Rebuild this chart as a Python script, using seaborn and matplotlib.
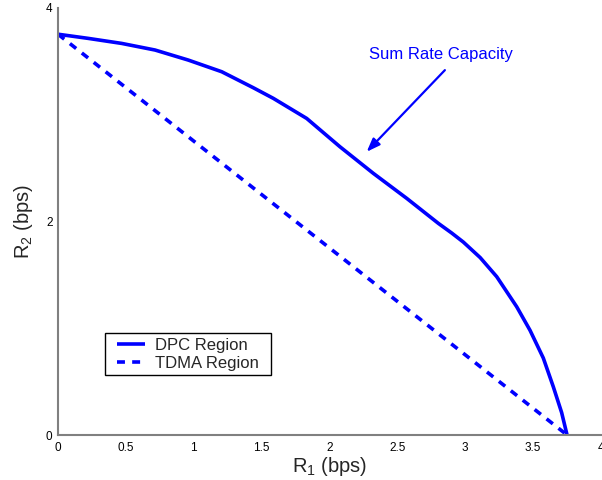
import numpy as np
import pandas as pd
import matplotlib
matplotlib.use("Agg")
import matplotlib.pyplot as plt
from matplotlib.patches import Rectangle
import seaborn as sns

# ---- data ----
dpc_x = [0.0, 0.223, 0.469, 0.715, 0.960, 1.206, 1.439, 1.586, 1.832, 2.077,
         2.323, 2.569, 2.802, 2.900, 2.986, 3.110, 3.232, 3.379, 3.477, 3.575,
         3.649, 3.710, 3.75]
dpc_y = [3.75, 3.711, 3.664, 3.602, 3.508, 3.399, 3.249, 3.150, 2.962, 2.697,
         2.448, 2.214, 1.980, 1.890, 1.805, 1.660, 1.481, 1.200, 0.980, 0.720,
         0.450, 0.210, 0.0]
tdma_x = [0.0, 3.75]
tdma_y = [3.75, 0.0]
x_ticks = [0, 0.5, 1, 1.5, 2, 2.5, 3, 3.5, 4]
x_tick_labels = ["0", "0.5", "1", "1.5", "2", "2.5", "3", "3.5", "4"]
y_ticks = [0, 2, 4]
y_tick_labels = ["0", "2", "4"]
series_names = ["DPC Region", "TDMA Region"]
annotation_text = "Sum Rate Capacity"
annotation_xy = (2.274, 2.65)
annotation_text_xy = (2.85, 3.414)

sns.set_style("white")
plt.rcParams["font.family"] = ["Liberation Sans", "DejaVu Sans"]
plt.rcParams["mathtext.fontset"] = "custom"
plt.rcParams["mathtext.rm"] = "Liberation Sans"
plt.rcParams["mathtext.it"] = "Liberation Sans"

df_dpc = pd.DataFrame({"x": dpc_x, "y": dpc_y})
df_tdma = pd.DataFrame({"x": tdma_x, "y": tdma_y})

fig = plt.figure(figsize=(6.02, 4.8), dpi=100)
ax = fig.add_axes([58 / 602, 45 / 480, 543 / 602, 427.5 / 480])

blue = "#0000ff"
sns.lineplot(data=df_dpc, x="x", y="y", ax=ax, color=blue, linewidth=2.6,
             label=series_names[0], sort=False,
             solid_joinstyle="round", solid_capstyle="butt")
sns.lineplot(data=df_tdma, x="x", y="y", ax=ax, color=blue, linewidth=2.6,
             linestyle=(0, (2.2, 2.0)), label=series_names[1], sort=False)

ax.set_xlim(0, 4)
ax.set_ylim(0, 4)
ax.set_xticks(x_ticks)
ax.set_xticklabels(x_tick_labels)
ax.set_yticks(y_ticks)
ax.set_yticklabels(y_tick_labels)
ax.tick_params(axis="both", direction="in", length=4, width=0.8, labelsize=8.5,
               colors="black", pad=4)
ax.tick_params(axis="x", pad=5)

for side in ["top", "right"]:
    ax.spines[side].set_visible(False)
for side in ["left", "bottom"]:
    ax.spines[side].set_color("#808080")
    ax.spines[side].set_linewidth(1.5)

ax.set_xlabel(r"R$_{\mathrm{1}}$ (bps)", fontsize=14.5, labelpad=1)
ax.set_ylabel(r"R$_{\mathrm{2}}$ (bps)", fontsize=14.5, labelpad=8)

ax.annotate("", xy=annotation_xy, xytext=annotation_text_xy,
            arrowprops=dict(arrowstyle="-|>,head_length=0.8,head_width=0.3",
                            color=blue, lw=1.6, shrinkA=0, shrinkB=0))
ax.text(2.82, 3.56, annotation_text, color=blue, fontsize=12,
        ha="center", va="center")

# legend frame (MATLAB style box) + legend entries
ax.add_patch(Rectangle((0.0866, 0.140), 0.392 - 0.0866, 0.2386 - 0.140,
                       transform=ax.transAxes, facecolor="white",
                       edgecolor="black", linewidth=1.0, zorder=4))
leg = ax.legend(loc="center left", bbox_to_anchor=(0.108, 0.189), fontsize=12,
                frameon=False, handlelength=1.7, borderpad=0,
                labelspacing=0.2, handletextpad=0.6, borderaxespad=0)
leg.set_zorder(5)

fig.savefig("out.png", dpi=100)
